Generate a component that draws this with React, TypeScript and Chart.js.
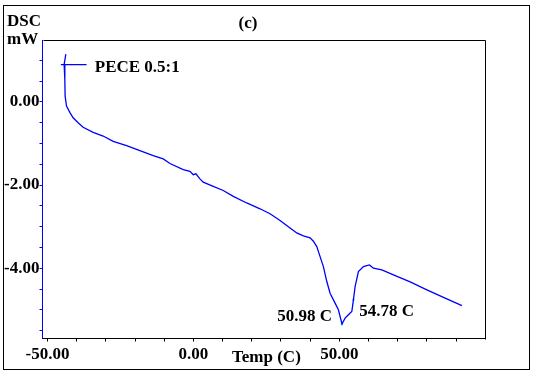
import React, { useEffect, useRef } from 'react';
import { Chart, registerables } from 'chart.js';

Chart.register(...registerables);

// Trace of the DSC curve (temperature in C, heat flow in mW)
const tempC = [-43.71, -44.29, -44.05, -43.95, -43.47, -42.34, -41.21, -39.49, -37.78, -34.35, -30.92, -27.49, -22.89, -18.33, -13.77, -10.34, -8.04, -3.48, -1.19, -0.05, 0.87, 2.24, 3.37, 6.8, 10.23, 13.66, 18.26, 22.82, 26.25, 29.68, 33.11, 35.41, 37.67, 39.97, 41.1, 42.27, 43.4, 44.53, 45.7, 46.83, 48.54, 49.67, 50.9, 51.97, 53.1, 54.27, 54.82, 55.4, 56.53, 58.25, 60.31, 61.68, 64.56, 68.54, 74.26, 79.99, 85.68, 91.99];
const dscMW = [1.15, 0.9, 0.54, 0.14, -0.1, -0.25, -0.38, -0.5, -0.61, -0.73, -0.82, -0.95, -1.05, -1.17, -1.29, -1.37, -1.48, -1.63, -1.67, -1.75, -1.73, -1.85, -1.93, -2.03, -2.13, -2.27, -2.43, -2.57, -2.69, -2.85, -3.03, -3.15, -3.22, -3.27, -3.35, -3.48, -3.72, -3.96, -4.32, -4.6, -4.84, -5.0, -5.34, -5.2, -5.12, -5.04, -4.76, -4.44, -4.08, -3.96, -3.92, -4.0, -4.04, -4.16, -4.33, -4.52, -4.7, -4.9];

// Peak markers
const peakTemps = [50.9, 54.82];
const peakDSC = [-5.34, -4.76];
const peakLabels = ['50.98 C', '54.78 C'];
const peakLabelX = [47.5, 56.8];
const peakLabelY = [-5.28, -5.14];
const peakLabelAlign = ['right', 'left'];

// Sample label with its pointer line
const sampleName = 'PECE 0.5:1';
const sampleLineX = [-45.4, -36.6];
const sampleLineY = [0.9, 0.9];
const sampleLabelX = -33.8;
const sampleLabelY = 0.72;

// Axes
const xMin = -51.7;
const xMax = 99.9;
const yMin = -5.69;
const yMax = 1.49;
const xTickValues = [-50, -40, -30, -20, -10, 0, 10, 20, 30, 40, 50, 60, 70, 80, 90];
const xLabelValues = [-50, 0, 50];
const yTickValues = [-5.5, -5, -4.5, -4, -3.5, -3, -2.5, -2, -1.5, -1, -0.5, 0, 0.5, 1];
const yLabelValues = [-4, -2, 0];

const chartTitle = '(c)';
const yTitleLines = ['DSC', 'mW'];
const xTitle = 'Temp (C)';

const FONT_FAMILY = '"Liberation Serif", "Times New Roman", serif';
const FONT_SIZE = 17;
const BLUE = '#0000ff';

const decorPlugin = {
  id: 'decor',
  afterDraw(chart: any) {
    const ctx = chart.ctx;
    const area = chart.chartArea;
    const xs = chart.scales.x;
    const ys = chart.scales.y;
    ctx.save();
    // outer frame
    ctx.strokeStyle = '#000';
    ctx.lineWidth = 1;
    ctx.strokeRect(3.5, 5.5, 526, 364);
    // top and right of plot frame
    ctx.beginPath();
    ctx.moveTo(Math.round(area.left) + 0.5, Math.round(area.top) + 0.5);
    ctx.lineTo(Math.round(area.right) + 0.5, Math.round(area.top) + 0.5);
    ctx.lineTo(Math.round(area.right) + 0.5, Math.round(area.bottom) + 0.5);
    ctx.stroke();

    ctx.fillStyle = '#000';
    ctx.font = `bold ${FONT_SIZE}px ${FONT_FAMILY}`;
    ctx.textBaseline = 'alphabetic';
    ctx.textAlign = 'center';
    ctx.fillText(chartTitle, 248, 28);
    ctx.textAlign = 'left';
    ctx.fillText(yTitleLines[0], 7, 26);
    ctx.fillText(yTitleLines[1], 7, 43.5);
    ctx.fillText(xTitle, 232, 361.5);

    // sample label
    ctx.fillText(sampleName, xs.getPixelForValue(sampleLabelX), ys.getPixelForValue(sampleLabelY));
    // peak labels
    peakLabels.forEach((t, i) => {
      ctx.textAlign = peakLabelAlign[i] as CanvasTextAlign;
      ctx.fillText(t, xs.getPixelForValue(peakLabelX[i]), ys.getPixelForValue(peakLabelY[i]));
    });
    ctx.restore();
  },
};

export default function App() {
  const ref = useRef<HTMLCanvasElement | null>(null);
  useEffect(() => {
    document.body.style.margin = '0';
    const canvas = ref.current;
    if (!canvas) return;
    const font = { family: FONT_FAMILY, size: FONT_SIZE, weight: 'bold' as const };
    const chart = new Chart(canvas, {
      type: 'line',
      data: {
        datasets: [
          {
            data: tempC.map((x, i) => ({ x, y: dscMW[i] })),
            borderColor: BLUE,
            borderWidth: 1.3,
            pointRadius: 0,
            tension: 0,
            fill: false,
          },
          {
            data: sampleLineX.map((x, i) => ({ x, y: sampleLineY[i] })),
            borderColor: BLUE,
            borderWidth: 1.2,
            pointRadius: 0,
            fill: false,
          },
          {
            data: peakTemps.map((x, i) => ({ x, y: peakDSC[i] })),
            showLine: false,
            pointRadius: 1.2,
            pointBorderWidth: 0,
            pointBackgroundColor: '#00e5ff',
          },
        ],
      },
      options: {
        animation: false,
        responsive: false,
        devicePixelRatio: 1,
        layout: { padding: { left: 0, top: 40, right: 50, bottom: 0 } },
        plugins: {
          legend: { display: false },
          tooltip: { enabled: false },
          title: { display: false },
        },
        scales: {
          x: {
            type: 'linear',
            min: xMin,
            max: xMax,
            afterBuildTicks: (s: any) => {
              s.ticks = xTickValues.map((v) => ({ value: v }));
            },
            afterFit: (s: any) => {
              s.height = 35.5;
            },
            grid: { drawOnChartArea: false, drawTicks: true, tickLength: 3, color: '#000', lineWidth: 1 },
            border: { color: '#000', width: 1 },
            ticks: {
              autoSkip: false,
              maxRotation: 0,
              padding: 3,
              color: '#000',
              font,
              callback: (v: any) => (xLabelValues.includes(Number(v)) ? Number(v).toFixed(2) : ''),
            },
          },
          y: {
            type: 'linear',
            min: yMin,
            max: yMax,
            afterBuildTicks: (s: any) => {
              s.ticks = yTickValues.map((v) => ({ value: v }));
            },
            afterFit: (s: any) => {
              s.width = 42.5;
            },
            grid: { drawOnChartArea: false, drawTicks: true, tickLength: 3, color: BLUE, lineWidth: 1 },
            border: { color: BLUE, width: 1 },
            ticks: {
              autoSkip: false,
              padding: 0,
              color: '#000',
              font,
              callback: (v: any) => (yLabelValues.includes(Number(v)) ? Number(v).toFixed(2) : ''),
            },
          },
        },
      },
      plugins: [decorPlugin],
    });
    return () => chart.destroy();
  }, []);
  return (
    <div style={{ position: 'fixed', left: 0, top: 0, width: 535, height: 374, background: '#fff' }}>
      <canvas ref={ref} width={535} height={374} style={{ display: 'block', width: 535, height: 374 }} />
    </div>
  );
}
